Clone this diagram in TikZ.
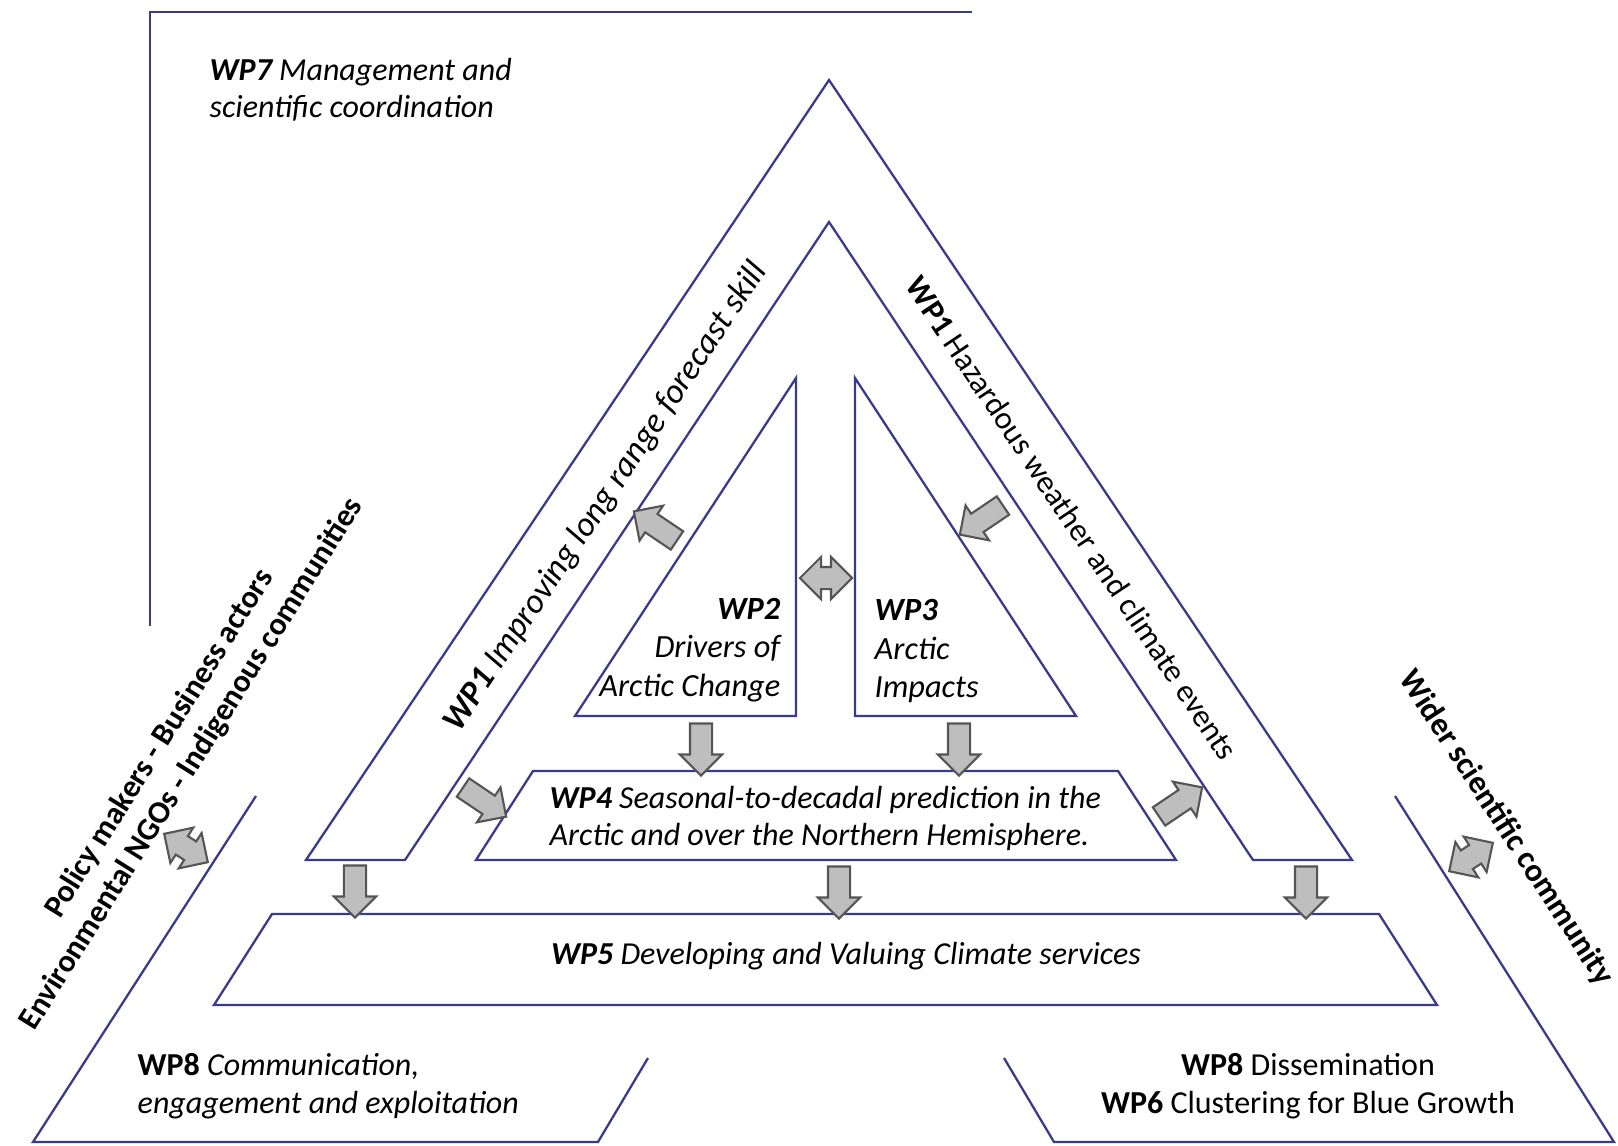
\documentclass[tikz,border=0pt]{standalone}
\usepackage{fontspec}
\setmainfont{Carlito}
\usetikzlibrary{shapes.arrows}
\definecolor{wpblue}{RGB}{58,58,140}
\definecolor{arrfill}{RGB}{190,190,190}
\definecolor{arrdraw}{RGB}{85,85,85}
\newcommand{\wpb}[1]{\textbf{WP#1}}
\newcommand{\wpsize}{\fontsize{9.1}{10.5}\selectfont}
\begin{document}
\begin{tikzpicture}[x=0.01cm,y=-0.01cm,
    wpline/.style={draw=wpblue,line width=0.65pt},
    blockarr/.style={single arrow,draw=arrdraw,fill=arrfill,line width=0.6pt,
      minimum height=0.52cm,inner sep=0.1cm,single arrow head extend=0.1cm},
    dblarr/.style={double arrow,draw=arrdraw,fill=arrfill,line width=0.6pt,
      minimum height=0.52cm,inner sep=0.1cm,double arrow head extend=0.1cm},
    wptext/.style={inner sep=0pt,font=\wpsize},
    wpit/.style={inner sep=0pt,font=\wpsize\itshape}]
    \useasboundingbox (0,0) rectangle (1618,1145);
    \draw[wpline] (150,626) -- (150,12) -- (972,12);
    \draw[wpline] (829,80) -- (306,860) -- (405,860) -- (829,222) -- (1253,860) -- (1352,860) -- cycle;
    \draw[wpline] (796,378) -- (796,716) -- (575,716) -- cycle;
    \draw[wpline] (855,378) -- (855,716) -- (1076,716) -- cycle;
    \draw[wpline] (533,771) -- (1118,771) -- (1176,860) -- (476,860) -- cycle;
    \draw[wpline] (272,914) -- (1379,914) -- (1437,1005) -- (214,1005) -- cycle;
    \draw[wpline] (256,796) -- (33,1142) -- (598,1142) -- (648,1058);
    \draw[wpline] (1004,1058) -- (1054,1142) -- (1614,1142) -- (1395,796);
    \node[wpit,anchor=west,align=left] (wp7) at (209,90)
        {\wpb{7} Management and\\scientific coordination};
    \node[wpit,rotate=56.3,font=\fontsize{9.8}{11}\selectfont\itshape] (wp1l) at (606,497)
        {\wpb{1} Improving long range forecast skill};
    \node[wptext,rotate=-56.3] (wp1r) at (1072,518)
        {\wpb{1} Hazardous weather and climate events};
    \node[wpit,anchor=east,align=right,font=\fontsize{9.2}{11}\selectfont\itshape] (wp2) at (781,650)
        {\wpb{2}\\Drivers of\\Arctic Change};
    \node[wpit,anchor=west,align=left,font=\fontsize{9.2}{11}\selectfont\itshape] (wp3) at (874,651)
        {\wpb{3}\\Arctic\\Impacts};
    \node[wpit,anchor=west,align=left] (wp4) at (549,818)
        {\wpb{4} Seasonal-to-decadal prediction in the\\Arctic and over the Northern Hemisphere.};
    \node[wpit] (wp5) at (846,956)
        {\wpb{5} Developing and Valuing Climate services};
    \node[wptext,anchor=west,align=left,font=\fontsize{9.1}{10.8}\selectfont] (wp8l) at (137,1086)
        {\wpb{8} \textit{Communication,}\\\textit{engagement and exploitation}};
    \node[wptext,align=center,font=\fontsize{9.1}{10.8}\selectfont] (wp8r) at (1308,1086)
        {\wpb{8} Dissemination\\\wpb{6} Clustering for Blue Growth};
    \node[wptext,rotate=58,align=center,font=\fontsize{9}{10.8}\selectfont\bfseries] (users) at (176,754)
        {Policy makers - Business actors\\Environmental NGOs - Indigenous communities};
    \node[wptext,rotate=-57,font=\fontsize{9.2}{11}\selectfont\bfseries] (sci) at (1506,828)
        {Wider scientific community};
    \node[blockarr,rotate=-90] (a15l) at (355,886) {};
    \node[blockarr,rotate=-90] (a24) at (701,744) {};
    \node[blockarr,rotate=-90] (a34) at (959,744) {};
    \node[blockarr,rotate=-90] (a45) at (839,887) {};
    \node[blockarr,rotate=-90] (a15r) at (1306,887) {};
    \node[blockarr,rotate=-34] (a14) at (480,799) {};
    \node[blockarr,rotate=146] (a21) at (660,529) {};
    \node[blockarr,rotate=34] (a41) at (1176,805) {};
    \node[blockarr,rotate=214] (a13) at (986,517) {};
    \node[dblarr] (a23) at (826,578) {};
    \node[dblarr,rotate=-33] (ausers) at (186,848) {};
    \node[dblarr,rotate=33] (asci) at (1471,857) {};
\end{tikzpicture}
\end{document}
